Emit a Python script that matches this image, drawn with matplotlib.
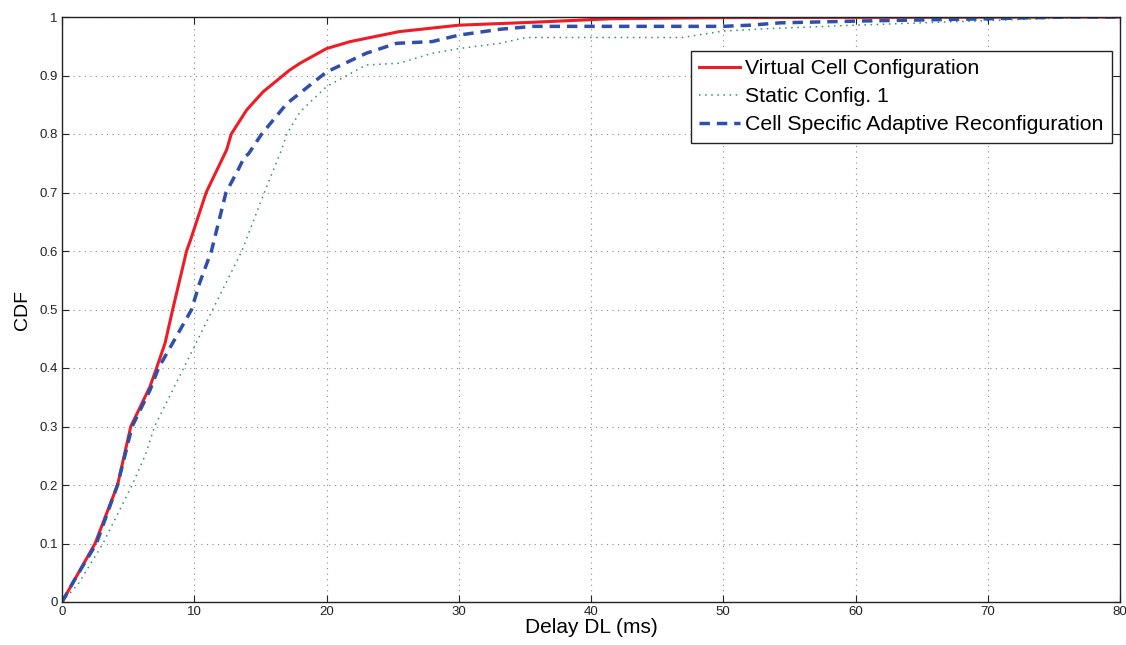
import matplotlib
matplotlib.use("Agg")
import matplotlib.pyplot as plt
import numpy as np

plt.rcParams['font.family'] = ['Liberation Sans', 'DejaVu Sans']

# Virtual Cell Configuration
vc_x = [0, 1.0, 2.5, 4.2, 5.2, 6.65, 7.15, 7.8, 8.37, 9.42, 9.72, 10.9, 12.45, 12.8, 13.96,
        15.2, 17.2, 18, 20, 21.8, 25.5, 30, 35.6, 41.5, 50, 80]
vc_y = [0, 0.04, 0.10, 0.20, 0.30, 0.368, 0.40, 0.443, 0.50, 0.60, 0.619, 0.70, 0.773, 0.80, 0.841,
        0.872, 0.909, 0.921, 0.946, 0.958, 0.975, 0.986, 0.991, 0.997, 0.999, 1.0]

# Static Config. 1
sc_x = [0, 1.2, 3.1, 5.3, 6.3, 7.0, 9.2, 11.4, 13.6, 15.3, 16.6, 17.0, 18, 20, 23, 25.5,
        28, 30, 33.1, 35.1, 46.9, 50, 53.3, 60, 70, 78, 80]
sc_y = [0, 0.03, 0.10, 0.20, 0.251, 0.30, 0.40, 0.50, 0.60, 0.70, 0.773, 0.80, 0.838, 0.881, 0.918, 0.921,
        0.938, 0.946, 0.955, 0.965, 0.965, 0.976, 0.980, 0.986, 0.994, 1.0, 1.0]

# Cell Specific Adaptive Reconfiguration
ca_x = [0, 1.0, 2.6, 4.2, 5.3, 6.65, 7.3, 9.8, 10.4, 11.3, 12.4, 13.3, 13.8, 14.1, 15.1,
        17, 18, 20, 23, 25.3, 28, 30, 33.1, 35.6, 50, 52, 54.3, 60, 70, 76, 80]
ca_y = [0, 0.04, 0.10, 0.20, 0.30, 0.362, 0.40, 0.50, 0.545, 0.60, 0.70, 0.738, 0.761, 0.766, 0.80,
        0.852, 0.870, 0.906, 0.938, 0.955, 0.958, 0.969, 0.979, 0.984, 0.984, 0.986, 0.990, 0.993, 0.997, 1.0, 1.0]

xticks = list(range(0, 81, 10))
yticks = [i / 10 for i in range(11)]
ytick_labels = ['0', '0.1', '0.2', '0.3', '0.4', '0.5', '0.6', '0.7', '0.8', '0.9', '1']

fig = plt.figure(figsize=(11.26, 6.45), dpi=100)
ax = fig.add_axes([62 / 1126, 43 / 645, (1120 - 62) / 1126, (602 - 17) / 645])

ax.plot(vc_x, vc_y, color='#ee1c25', lw=2.2, label='Virtual Cell Configuration')
ax.plot(sc_x, sc_y, color='#2e9070', lw=1.1, ls=(0, (1, 3)), label='Static Config. 1')
ax.plot(ca_x, ca_y, color='#2f4fa8', lw=2.5, ls=(0, (3, 2)), label='Cell Specific Adaptive Reconfiguration')

ax.set_xlim(0, 80)
ax.set_ylim(0, 1)
ax.set_xticks(xticks)
ax.set_yticks(yticks)
ax.set_yticklabels(ytick_labels)
ax.tick_params(direction='in', top=True, right=True, labelsize=9.5, length=5, width=0.8,
               colors='#222222', pad=3)
ax.grid(True, color='#888888', ls=(0, (1, 4)), lw=0.8)
for s in ax.spines.values():
    s.set_linewidth(1.0)
    s.set_color('#222222')

ax.set_xlabel('Delay DL (ms)', fontsize=15, labelpad=0)
ax.set_ylabel('CDF', fontsize=14, labelpad=6)

leg = ax.legend(loc='upper right', bbox_to_anchor=(1112 / 1126, 1 - 51 / 645),
                bbox_transform=fig.transFigure, fontsize=15.3, frameon=True, fancybox=False,
                edgecolor='#222222', framealpha=1, borderpad=0.4, labelspacing=0.42,
                handlelength=1.9, handletextpad=0.25, borderaxespad=0)
leg.get_frame().set_linewidth(1.0)

fig.savefig('out.png', dpi=100)
